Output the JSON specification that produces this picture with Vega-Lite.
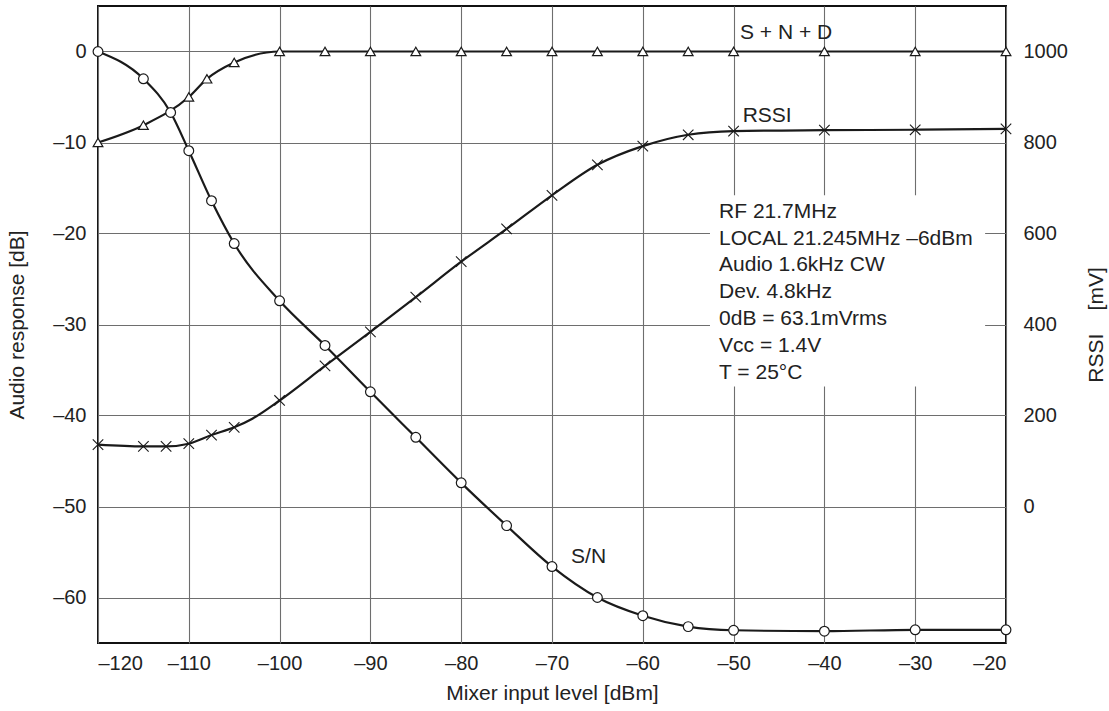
{
  "$schema": "https://vega.github.io/schema/vega-lite/v6.json",
  "autosize": "none",
  "width": 908,
  "height": 637,
  "padding": {"left": 98, "top": 6, "right": 103, "bottom": 68},
  "config": {
    "font": "Liberation Sans",
    "view": {"stroke": "#111", "strokeWidth": 2},
    "axis": {
      "labelFont": "Liberation Sans",
      "titleFont": "Liberation Sans",
      "labelFontSize": 20,
      "titleFontSize": 21,
      "titleFontWeight": "normal",
      "labelColor": "#222",
      "titleColor": "#222",
      "domain": false,
      "ticks": false,
      "gridColor": "#6e6e6e",
      "gridWidth": 1.1,
      "gridOpacity": 1
    }
  },
  "datasets": {
    "audio": [
      {"series": "snd", "dbm": -120, "db": -10},
      {"series": "snd", "dbm": -115, "db": -8.1},
      {"series": "snd", "dbm": -110, "db": -5.0},
      {"series": "snd", "dbm": -108, "db": -3.0},
      {"series": "snd", "dbm": -105, "db": -1.2},
      {"series": "snd", "dbm": -100, "db": 0},
      {"series": "snd", "dbm": -95, "db": 0},
      {"series": "snd", "dbm": -90, "db": 0},
      {"series": "snd", "dbm": -85, "db": 0},
      {"series": "snd", "dbm": -80, "db": 0},
      {"series": "snd", "dbm": -75, "db": 0},
      {"series": "snd", "dbm": -70, "db": 0},
      {"series": "snd", "dbm": -65, "db": 0},
      {"series": "snd", "dbm": -60, "db": 0},
      {"series": "snd", "dbm": -55, "db": 0},
      {"series": "snd", "dbm": -50, "db": 0},
      {"series": "snd", "dbm": -40, "db": 0},
      {"series": "snd", "dbm": -30, "db": 0},
      {"series": "snd", "dbm": -20, "db": 0},
      {"series": "sn", "dbm": -120, "db": 0},
      {"series": "sn", "dbm": -115, "db": -3.0},
      {"series": "sn", "dbm": -112, "db": -6.7},
      {"series": "sn", "dbm": -110, "db": -10.9},
      {"series": "sn", "dbm": -107.5, "db": -16.4},
      {"series": "sn", "dbm": -105, "db": -21.1},
      {"series": "sn", "dbm": -100, "db": -27.4},
      {"series": "sn", "dbm": -95, "db": -32.3},
      {"series": "sn", "dbm": -90, "db": -37.4},
      {"series": "sn", "dbm": -85, "db": -42.4},
      {"series": "sn", "dbm": -80, "db": -47.4},
      {"series": "sn", "dbm": -75, "db": -52.1},
      {"series": "sn", "dbm": -70, "db": -56.6},
      {"series": "sn", "dbm": -65, "db": -60.0},
      {"series": "sn", "dbm": -60, "db": -62.0},
      {"series": "sn", "dbm": -55, "db": -63.2},
      {"series": "sn", "dbm": -50, "db": -63.6},
      {"series": "sn", "dbm": -40, "db": -63.7},
      {"series": "sn", "dbm": -30, "db": -63.55},
      {"series": "sn", "dbm": -20, "db": -63.55}
    ],
    "rssi": [
      {"dbm": -120, "mv": 136, "marker": true},
      {"dbm": -115, "mv": 132, "marker": true},
      {"dbm": -112.5, "mv": 132, "marker": true},
      {"dbm": -110, "mv": 138, "marker": true},
      {"dbm": -107.5, "mv": 157, "marker": true},
      {"dbm": -105, "mv": 174, "marker": true},
      {"dbm": -103, "mv": 193, "marker": false},
      {"dbm": -100, "mv": 233, "marker": true},
      {"dbm": -95, "mv": 309, "marker": true},
      {"dbm": -90, "mv": 384, "marker": true},
      {"dbm": -85, "mv": 460, "marker": true},
      {"dbm": -80, "mv": 538, "marker": true},
      {"dbm": -75, "mv": 610, "marker": true},
      {"dbm": -70, "mv": 684, "marker": true},
      {"dbm": -65, "mv": 751, "marker": true},
      {"dbm": -60, "mv": 792, "marker": true},
      {"dbm": -55, "mv": 817, "marker": true},
      {"dbm": -50, "mv": 825, "marker": true},
      {"dbm": -40, "mv": 827, "marker": true},
      {"dbm": -30, "mv": 828, "marker": true},
      {"dbm": -20, "mv": 830, "marker": true}
    ],
    "box": [
      {"dbm": -52.6, "dbm2": -22.3, "db": -15.8, "db2": -36.8}
    ],
    "notes": [
      {"dbm": -51.6, "db": -17.6, "label": "RF 21.7MHz"},
      {"dbm": -51.6, "db": -20.55, "label": "LOCAL 21.245MHz –6dBm"},
      {"dbm": -51.6, "db": -23.5, "label": "Audio 1.6kHz CW"},
      {"dbm": -51.6, "db": -26.45, "label": "Dev. 4.8kHz"},
      {"dbm": -51.6, "db": -29.4, "label": "0dB = 63.1mVrms"},
      {"dbm": -51.6, "db": -32.35, "label": "Vcc = 1.4V"},
      {"dbm": -51.6, "db": -35.3, "label": "T = 25°C"},
      {"dbm": -49.3, "db": 2.0, "label": "S + N + D"},
      {"dbm": -49.0, "db": -7.1, "label": "RSSI"},
      {"dbm": -67.9, "db": -55.6, "label": "S/N"}
    ]
  },
  "layer": [
    {
      "encoding": {
        "x": {
          "field": "dbm", "type": "quantitative",
          "scale": {"domain": [-120, -20], "nice": false, "zero": false},
          "axis": {
            "title": "Mixer input level [dBm]",
            "values": [-120, -110, -100, -90, -80, -70, -60, -50, -40, -30, -20],
            "labelExpr": "datum.value < 0 ? '–' + (-datum.value) : '' + datum.value",
            "labelPadding": 10,
            "titlePadding": 9,
            "grid": true
          }
        },
        "y": {
          "field": "db", "type": "quantitative",
          "scale": {"domain": [-65, 5], "nice": false, "zero": false},
          "axis": {
            "title": "Audio response [dB]",
            "values": [-60, -50, -40, -30, -20, -10, 0],
            "labelExpr": "datum.value < 0 ? '–' + (-datum.value) : '' + datum.value",
            "labelPadding": 12,
            "titlePadding": 25,
            "grid": true
          }
        }
      },
      "layer": [
        {
          "data": {"name": "box"},
          "mark": {"type": "rect", "fill": "white", "stroke": null},
          "encoding": {
            "x2": {"field": "dbm2"},
            "y2": {"field": "db2"}
          }
        },
        {
          "data": {"name": "audio"},
          "mark": {"type": "line", "interpolate": "monotone", "color": "#1a1a1a", "strokeWidth": 2.2},
          "encoding": {"detail": {"field": "series", "type": "nominal"}}
        },
        {
          "data": {"name": "audio"},
          "mark": {"type": "point", "filled": false, "fill": "white", "fillOpacity": 1, "stroke": "#1a1a1a", "strokeWidth": 1.2, "opacity": 1, "size": 95},
          "encoding": {
            "shape": {
              "field": "series", "type": "nominal",
              "scale": {"domain": ["snd", "sn"], "range": ["triangle-up", "circle"]},
              "legend": null
            }
          }
        },
        {
          "data": {"name": "notes"},
          "mark": {"type": "text", "align": "left", "baseline": "middle", "fontSize": 21, "color": "#222", "font": "Liberation Sans"},
          "encoding": {"text": {"field": "label", "type": "nominal"}}
        }
      ]
    },
    {
      "data": {"name": "rssi"},
      "encoding": {
        "x": {
          "field": "dbm", "type": "quantitative",
          "scale": {"domain": [-120, -20], "nice": false, "zero": false},
          "axis": {
            "title": "Mixer input level [dBm]",
            "values": [-120, -110, -100, -90, -80, -70, -60, -50, -40, -30, -20],
            "labelExpr": "datum.value < 0 ? '–' + (-datum.value) : '' + datum.value",
            "labelPadding": 10,
            "titlePadding": 9,
            "grid": true
          }
        },
        "y": {
          "field": "mv", "type": "quantitative",
          "scale": {"domain": [-300, 1100], "nice": false, "zero": false},
          "axis": {
            "orient": "right",
            "title": "RSSI\u00a0\u00a0\u00a0\u00a0[mV]",
            "titleAngle": 270,
            "values": [0, 200, 400, 600, 800, 1000],
            "labelExpr": "'' + datum.value",
            "labelPadding": 17,
            "titlePadding": 39,
            "grid": false
          }
        }
      },
      "layer": [
        {
          "mark": {"type": "line", "interpolate": "monotone", "color": "#1a1a1a", "strokeWidth": 2.2}
        },
        {
          "transform": [{"filter": "datum.marker"}],
          "mark": {"type": "point", "shape": "M-1,-1L1,1M-1,1L1,-1", "filled": false, "stroke": "#1a1a1a", "strokeWidth": 1.1, "opacity": 1, "size": 110}
        }
      ]
    }
  ],
  "resolve": {"scale": {"y": "independent"}}
}
